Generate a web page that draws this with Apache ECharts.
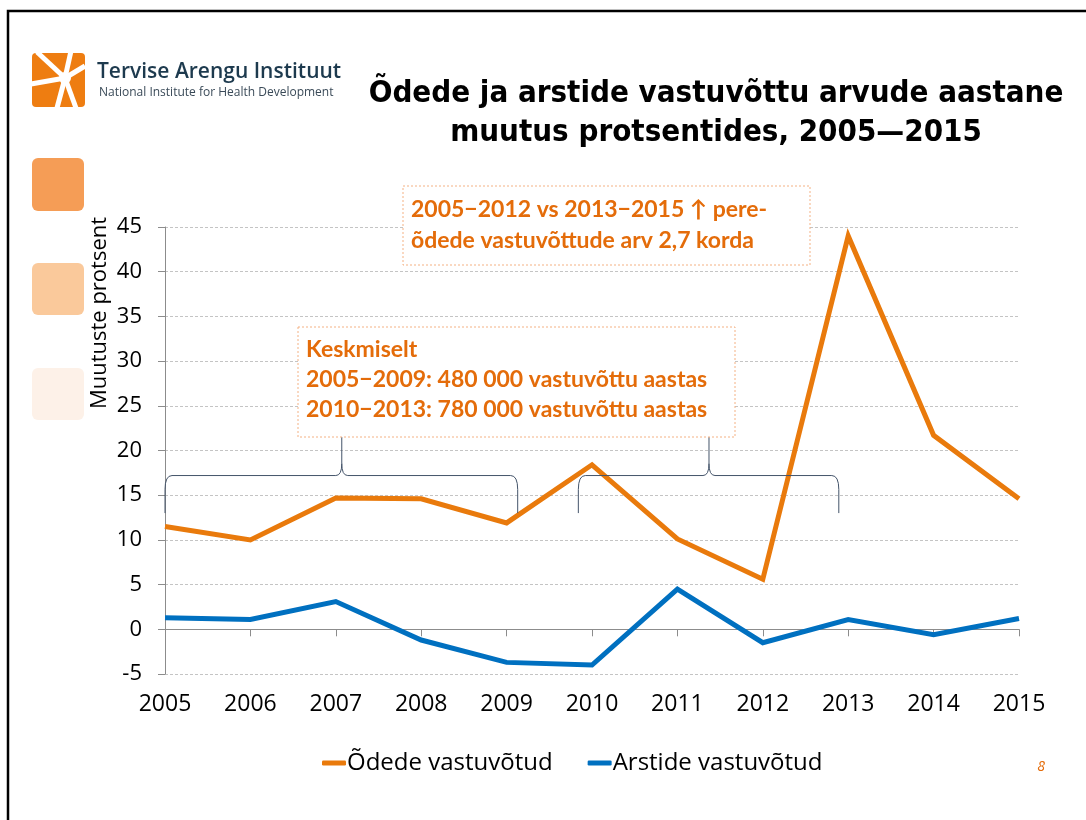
<!DOCTYPE html>
<html>
<head>
<meta charset="utf-8">
<title>Õdede ja arstide vastuvõttu arvude aastane muutus</title>
<script src="https://cdn.jsdelivr.net/npm/echarts@6/dist/echarts.min.js"></script>
<style>
  html, body { margin: 0; padding: 0; background: #fff; }
  #chart { width: 1086px; height: 820px; }
</style>
</head>
<body>
<div id="chart"></div>
<script>
const years = ["2005", "2006", "2007", "2008", "2009", "2010", "2011", "2012", "2013", "2014", "2015"];
const nurseVisits = [11.5, 10.0, 14.7, 14.6, 11.9, 18.4, 10.1, 5.6, 44.0, 21.7, 14.6];
const doctorVisits = [1.3, 1.1, 3.1, -1.2, -3.7, -4.0, 4.5, -1.5, 1.1, -0.6, 1.2];
const seriesNames = ["Õdede vastuvõtud", "Arstide vastuvõtud"];
const yTicks = { min: -5, max: 45, step: 5 };

const title = ["Õdede ja arstide vastuvõttu arvude aastane", "muutus protsentides, 2005\u20142015"];
const noteTop = ["2005\u22122012 vs 2013\u22122015 \u2191 pere-", "õdede vastuvõttude arv 2,7 korda"];
const noteAverage = [
  "Keskmiselt",
  "2005\u22122009: 480 000 vastuvõttu aastas",
  "2010\u22122013: 780 000 vastuvõttu aastas"
];
// braces: start / peak / end on the category index axis, heights in percent
const braces = [
  { from: 0, peak: 2.07, to: 4.13 },
  { from: 4.84, peak: 6.37, to: 7.89 }
];
const braceLevels = { foot: 13.0, bar: 17.2, tip: 21.5 };

const ORANGE = "#E97A0C";
const BLUE = "#0070C0";
const NOTE = "#E46C0A";
const AXIS_GREY = "#8c8c8c";

const chart = echarts.init(document.getElementById("chart"), undefined, { renderer: "canvas" });

chart.setOption({
  animation: false,
  backgroundColor: "#ffffff",
  textStyle: { fontFamily: "'Open Sans', sans-serif" },
  grid: { left: 165, right: 67, top: 227, bottom: 146, containLabel: false },
  legend: {
    left: 317,
    top: 746,
    itemWidth: 24,
    itemHeight: 5,
    itemGap: 35,
    icon: "roundRect",
    textStyle: { fontSize: 24, color: "#000", padding: [0, 0, 0, -4] },
    data: seriesNames
  },
  xAxis: [
    {
      type: "category",
      data: years,
      boundaryGap: false,
      position: "bottom",
      axisLine: { show: false, onZero: false },
      axisTick: { show: false },
      axisLabel: { fontSize: 23, color: "#000", margin: 19 },
      splitLine: { show: false }
    },
    {
      type: "category",
      data: years,
      boundaryGap: false,
      position: "top",
      axisLine: { show: true, onZero: true, lineStyle: { color: AXIS_GREY, width: 1 } },
      axisTick: { show: true, inside: true, length: 7, lineStyle: { color: AXIS_GREY } },
      axisLabel: { show: false },
      splitLine: { show: false }
    }
  ],
  yAxis: {
    type: "value",
    min: yTicks.min,
    max: yTicks.max,
    interval: yTicks.step,
    axisLine: { show: true, lineStyle: { color: AXIS_GREY, width: 1 } },
    axisTick: { show: true, length: 7, lineStyle: { color: AXIS_GREY } },
    axisLabel: { fontSize: 22, color: "#000", margin: 23 },
    splitLine: { show: true, lineStyle: { color: "#c4c4c4", type: [3, 2], width: 1 } }
  },
  series: [
    {
      name: seriesNames[0],
      type: "line",
      data: nurseVisits,
      symbol: "none",
      color: ORANGE,
      lineStyle: { width: 5, color: ORANGE, join: "miter" },
      z: 3
    },
    {
      name: seriesNames[1],
      type: "line",
      data: doctorVisits,
      symbol: "none",
      color: BLUE,
      lineStyle: { width: 5, color: BLUE, join: "miter" },
      z: 3
    }
  ]
});

// pixel position on the category axis for a fractional index
function xAt(index) {
  const a = chart.convertToPixel({ xAxisIndex: 0, yAxisIndex: 0 }, [0, 0])[0];
  const b = chart.convertToPixel({ xAxisIndex: 0, yAxisIndex: 0 }, [years.length - 1, 0])[0];
  return a + (b - a) * index / (years.length - 1);
}
function yAt(value) {
  return chart.convertToPixel({ xAxisIndex: 0, yAxisIndex: 0 }, [0, value])[1];
}

function braceParts(b) {
  const x0 = xAt(b.from), xc = xAt(b.peak), x1 = xAt(b.to);
  const yb = yAt(braceLevels.foot), yt = yAt(braceLevels.bar), ytop = yAt(braceLevels.tip);
  const style = { stroke: "#44546A", lineWidth: 1, fill: null };
  const line = (ax, ay, bx, by) => ({ type: "line", shape: { x1: ax, y1: ay, x2: bx, y2: by }, style, z: 5 });
  const curve = (ax, ay, cx, cy, bx, by) => ({
    type: "bezierCurve",
    shape: { x1: ax, y1: ay, cpx1: cx, cpy1: cy, x2: bx, y2: by },
    style, z: 5
  });
  return [
    line(x0, yb, x0, yt + 14),
    curve(x0, yt + 14, x0, yt, x0 + 7, yt),
    line(x0 + 7, yt, xc - 6, yt),
    curve(xc - 6, yt, xc, yt, xc, yt - 12),
    line(xc, yt - 12, xc, ytop),
    curve(xc, yt - 12, xc, yt, xc + 6, yt),
    line(xc + 6, yt, x1 - 7, yt),
    curve(x1 - 7, yt, x1, yt, x1, yt + 14),
    line(x1, yt + 14, x1, yb)
  ];
}

function noteBox(x, y, w, h, lines, lineGap) {
  return [
    {
      type: "rect",
      shape: { x: x, y: y, width: w, height: h },
      style: { fill: "#fff", stroke: "#F4B183", lineWidth: 1, lineDash: [2, 2] },
      z: 20
    },
    {
      type: "text",
      x: x + 8,
      y: y + 8,
      style: {
        text: lines.join("\n"),
        fill: NOTE,
        font: "bold 23px Lato, 'Open Sans', sans-serif",
        lineHeight: lineGap,
        textVerticalAlign: "top"
      },
      z: 21
    }
  ];
}

const logoCx = 65, logoCy = 78;
const rays = [[37, 52], [71, 51], [85, 66], [76, 108], [57, 108], [31, 84]];

const graphics = [
  // slide frame
  {
    type: "polyline",
    shape: { points: [[8, 830], [8, 11], [1090, 11]] },
    style: { stroke: "#000", lineWidth: 2.5, fill: null }
  },
  // logo
  {
    type: "rect",
    shape: { x: 32, y: 53, width: 53, height: 54, r: 4 },
    style: { fill: "#EE7D11" }
  }
];
rays.forEach(([rx, ry]) => {
  graphics.push({
    type: "line",
    shape: { x1: logoCx, y1: logoCy, x2: rx, y2: ry },
    style: { stroke: "#fff", lineWidth: 5 }
  });
});
graphics.push(
  { type: "circle", shape: { cx: logoCx, cy: logoCy, r: 6 }, style: { fill: "#fff" } },
  {
    type: "text", x: 97, y: 72,
    style: {
      text: "Tervise Arengu Instituut", fill: "#1d3a4e",
      font: "600 21px 'Open Sans', sans-serif", textVerticalAlign: "middle"
    }
  },
  {
    type: "text", x: 99, y: 93,
    style: {
      text: "National Institute for Health Development", fill: "#3a4a58",
      font: "12px 'Open Sans', sans-serif", textVerticalAlign: "middle"
    }
  },
  {
    type: "text", x: 716, y: 74,
    style: {
      text: title.join("\n"), fill: "#000",
      font: "bold 31px 'DejaVu Sans Condensed', 'Liberation Sans', sans-serif",
      lineHeight: 39, textAlign: "center", textVerticalAlign: "top"
    }
  },
  // side squares
  { type: "rect", shape: { x: 32, y: 158, width: 52, height: 53, r: 6 }, style: { fill: "#F59D56" } },
  { type: "rect", shape: { x: 32, y: 263, width: 52, height: 52, r: 6 }, style: { fill: "#FAC99B" } },
  { type: "rect", shape: { x: 32, y: 368, width: 52, height: 52, r: 6 }, style: { fill: "#FDF1E8" } },
  // y axis name
  {
    type: "text", x: 100, y: 313, rotation: Math.PI / 2,
    style: {
      text: "Muutuste protsent", fill: "#000",
      font: "22px 'Open Sans', sans-serif",
      textAlign: "center", textVerticalAlign: "middle"
    }
  },
  // page number
  {
    type: "text", x: 1041, y: 767,
    style: {
      text: "8", fill: NOTE, font: "italic 14px 'Open Sans', sans-serif",
      textAlign: "center", textVerticalAlign: "middle"
    }
  }
);
braces.forEach((b) => graphics.push(...braceParts(b)));
graphics.push(...noteBox(403, 186, 407, 79, noteTop, 31));
graphics.push(...noteBox(298, 327, 437, 110, noteAverage, 30));

chart.setOption({ graphic: graphics });
</script>
</body>
</html>
